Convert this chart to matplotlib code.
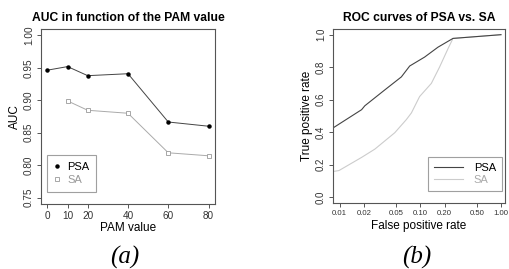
import matplotlib
matplotlib.use("Agg")
import matplotlib.pyplot as plt
import numpy as np

plt.rcParams['font.family'] = ['Liberation Sans', 'DejaVu Sans']

# Panel (a): AUC vs PAM value
pam_psa = [0, 10, 20, 40, 60, 80]
auc_psa = [0.9465, 0.952, 0.938, 0.941, 0.8665, 0.860]
pam_sa = [10, 20, 40, 60, 80]
auc_sa = [0.899, 0.8846, 0.880, 0.819, 0.8144]
xticks_a = [0, 10, 20, 40, 60, 80]
yticks_a = [0.75, 0.80, 0.85, 0.90, 0.95, 1.00]

# Panel (b): ROC curves (false positive rate, true positive rate)
fpr_psa = [0.0083, 0.0187, 0.0205, 0.0363, 0.0582, 0.0738, 0.113, 0.1655, 0.254, 1.0]
tpr_psa = [0.426, 0.538, 0.562, 0.66, 0.74, 0.807, 0.862, 0.923, 0.977, 1.0]
fpr_sa = [0.0083, 0.0098, 0.0187, 0.0273, 0.0482, 0.0671, 0.0775, 0.098, 0.137, 0.173, 0.22, 0.254, 1.0]
tpr_sa = [0.157, 0.163, 0.244, 0.295, 0.396, 0.477, 0.518, 0.619, 0.70, 0.80, 0.913, 0.977, 1.0]
xticks_b = [0.01, 0.02, 0.05, 0.10, 0.20, 0.50, 1.00]
xticklabels_b = ["0.01", "0.02", "0.05", "0.10", "0.20", "0.50", "1.00"]
yticks_b = [0.0, 0.2, 0.4, 0.6, 0.8, 1.0]

W, H = 509, 269
fig = plt.figure(figsize=(W / 100, H / 100), dpi=100)

def box(x0, x1, y0, y1):
    return [x0 / W, 1 - y1 / H, (x1 - x0) / W, (y1 - y0) / H]

spine_c = '#555555'
tick_c = '#333333'

def style(ax):
    for s in ax.spines.values():
        s.set_color(spine_c)
        s.set_linewidth(0.8)
    ax.tick_params(colors=spine_c, labelcolor=tick_c, length=3, width=0.7, pad=2)

# ---- Panel (a)
ax1 = fig.add_axes(box(41, 215, 29, 204))
style(ax1)
ax1.plot(pam_psa, auc_psa, color='#444444', lw=0.7, marker='o', ms=2.2,
         mfc='black', mec='black', label='PSA')
ax1.plot(pam_sa, auc_sa, color='#aaaaaa', lw=0.7, marker='s', ms=2.6,
         mfc='white', mec='#999999', mew=0.6, label='SA')
ax1.set_xlim(-3.2, 83.2)
ax1.set_ylim(0.74, 1.01)
ax1.set_xticks(xticks_a)
ax1.set_yticks(yticks_a)
ax1.set_yticklabels(["%.2f" % v for v in yticks_a], rotation=90, va='center')
ax1.tick_params(labelsize=7.2)
ax1.set_title("AUC in function of the PAM value", fontsize=8.7, fontweight='bold', pad=6)
ax1.set_xlabel("PAM value", fontsize=8.5, labelpad=1)
ax1.set_ylabel("AUC", fontsize=8.5, labelpad=2)
leg1 = ax1.legend(loc='lower left', bbox_to_anchor=(0.035, 0.07), fontsize=8, frameon=True,
                  fancybox=False, edgecolor='#888888', handlelength=0.6, handletextpad=0.6,
                  borderpad=0.6, labelspacing=0.3, borderaxespad=0)
leg1.get_frame().set_linewidth(0.8)
for h in leg1.get_lines():
    h.set_linestyle('none')
leg1.get_texts()[1].set_color('#999999')
leg1.get_texts()[0].set_color('black')

# ---- Panel (b)
ax2 = fig.add_axes(box(333, 505, 29, 203))
style(ax2)
ax2.plot(fpr_sa, tpr_sa, color='#cccccc', lw=0.8, label='SA')
ax2.plot(fpr_psa, tpr_psa, color='#444444', lw=0.8, label='PSA')
ax2.set_xscale('log')
ax2.set_xlim(10 ** -2.083, 10 ** 0.05)
ax2.set_ylim(-0.037, 1.035)
ax2.set_xticks(xticks_b)
ax2.set_xticklabels(xticklabels_b)
ax2.xaxis.set_minor_locator(matplotlib.ticker.NullLocator())
ax2.set_yticks(yticks_b)
ax2.set_yticklabels(["%.1f" % v for v in yticks_b], rotation=90, va='center')
ax2.tick_params(axis='x', labelsize=5.6)
ax2.tick_params(axis='y', labelsize=7.0)
ax2.set_title("ROC curves of PSA vs. SA", fontsize=8.7, fontweight='bold', pad=6)
ax2.set_xlabel("False positive rate", fontsize=8.5, labelpad=2)
ax2.set_ylabel("True positive rate", fontsize=8.5, labelpad=2)
handles, labels = ax2.get_legend_handles_labels()
leg2 = ax2.legend(handles[::-1], labels[::-1], loc='lower right', bbox_to_anchor=(0.98, 0.07),
                  fontsize=8, frameon=True, fancybox=False, edgecolor='#888888',
                  handlelength=2.6, handletextpad=1.0, borderpad=0.5, labelspacing=0.2,
                  borderaxespad=0)
leg2.get_frame().set_linewidth(0.8)
leg2.get_texts()[0].set_color('black')
leg2.get_texts()[1].set_color('#aaaaaa')

# sub-captions
fig.text(125 / W, 1 - 257 / H, "(a)", fontsize=18, fontstyle='italic',
         family=['Liberation Serif', 'DejaVu Serif'], ha='center', va='center')
fig.text(417 / W, 1 - 257 / H, "(b)", fontsize=18, fontstyle='italic',
         family=['Liberation Serif', 'DejaVu Serif'], ha='center', va='center')

fig.savefig("out.png", dpi=100)
